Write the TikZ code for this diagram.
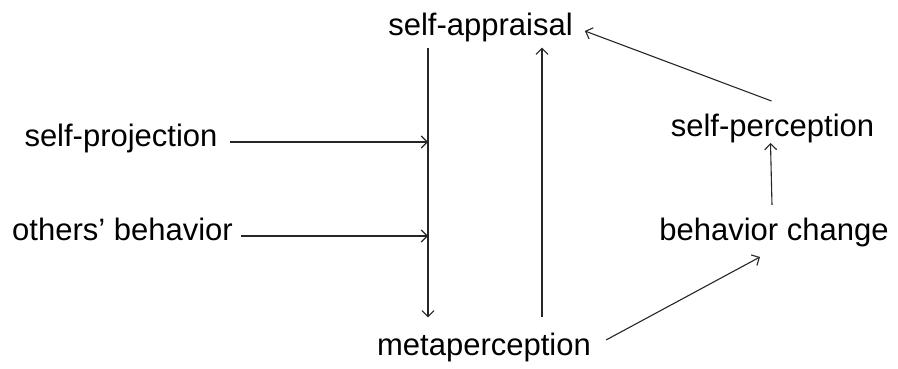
\documentclass[tikz,border=0pt]{standalone}
\usepackage{fontspec}
\setmainfont{Liberation Sans}
\usetikzlibrary{arrows.meta}
\begin{document}
\begin{tikzpicture}[x=1pt,y=1pt,
  lbl/.style={inner sep=0pt,anchor=base,font=\fontsize{31}{37}\selectfont,text=black},
  arr/.style={draw=black!85,line width=1.1pt,-{Straight Barb[length=6pt,width=12pt,line width=1.1pt]}}]
\useasboundingbox (0,0) rectangle (898,368);
\node[lbl] (sa) at (480.5,333) {self-appraisal};
\node[lbl] (sp) at (121,222) {self-projection};
\node[lbl] (ob) at (122.5,128) {others’ behavior};
\node[lbl] (mp) at (484,13) {metaperception};
\node[lbl] (bc) at (774,128) {behavior change};
\node[lbl] (spc) at (772.5,232) {self-perception};
\coordinate (lx) at (428,0);
\coordinate (rx) at (542,0);
\draw[arr] ([yshift=-6pt]sa.south -| lx) -- ([yshift=15pt]mp.north -| lx);
\draw[arr] ([yshift=15pt]mp.north -| rx) -- ([yshift=-6pt]sa.south -| rx);
\draw[arr] ([xshift=12pt,yshift=4pt]sp.base east) -- ([yshift=4pt]sp.base east -| lx);
\draw[arr] ([xshift=8pt,yshift=4pt]ob.base east) -- ([yshift=4pt]ob.base east -| lx);
\draw[arr] ([xshift=15pt,yshift=15pt]mp.base east) -- ([xshift=-14pt,yshift=-17pt]bc.base);
\draw[arr] ([xshift=-2pt,yshift=35pt]bc.base) -- ([xshift=-2pt,yshift=-7pt]spc.base);
\draw[arr] ([xshift=-1pt,yshift=35pt]spc.base) -- ([xshift=12pt,yshift=4pt]sa.base east);
\end{tikzpicture}
\end{document}
